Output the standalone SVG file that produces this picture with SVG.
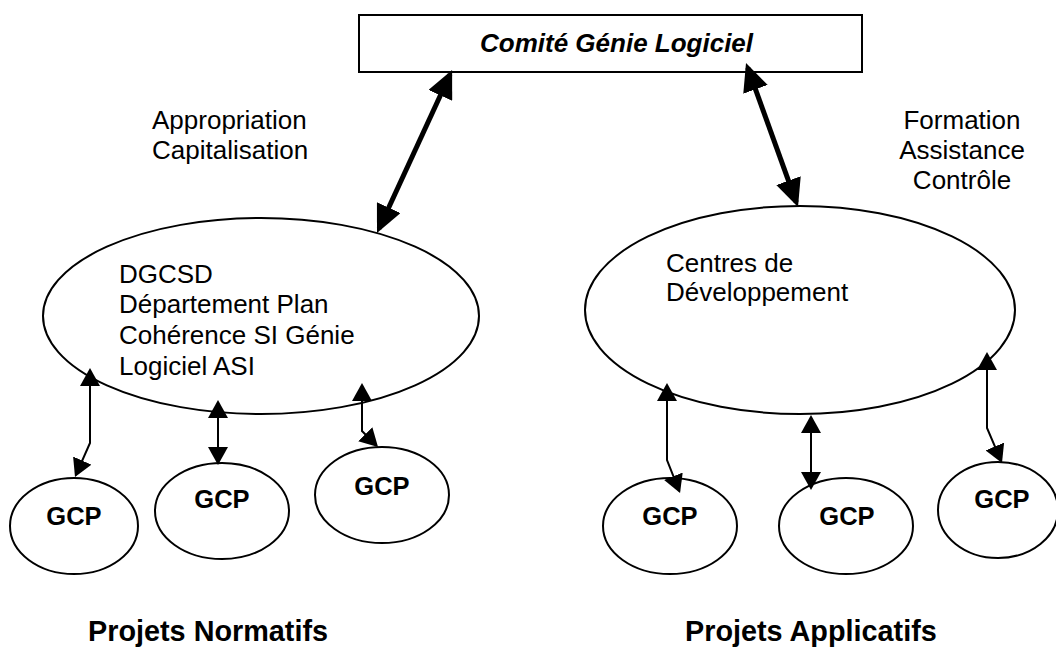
<svg xmlns="http://www.w3.org/2000/svg" width="1056" height="648" viewBox="0 0 1056 648">
<style>
text{font-family:"Liberation Sans",Arial,sans-serif;font-size:26px;fill:#000}
.b{font-weight:bold}
.big{font-weight:bold;font-size:28.8px}
.t{font-weight:bold;font-style:italic}
.shape{fill:#fff;stroke:#000;stroke-width:2}
.thick{fill:none;stroke:#000;stroke-width:5}
.thin{fill:none;stroke:#000;stroke-width:2}
.gcp{text-anchor:middle;font-size:25.5px}
</style>
<defs>
<marker id="bigA" markerUnits="userSpaceOnUse" markerWidth="28" markerHeight="26" refX="23" refY="13" orient="auto-start-reverse" viewBox="0 0 28 26">
<path d="M0,0 L28,13 L0,26 z" fill="#000"/>
</marker>
<marker id="smA" markerUnits="userSpaceOnUse" markerWidth="18" markerHeight="20" refX="16" refY="10" orient="auto-start-reverse" viewBox="0 0 18 20">
<path d="M0,0 L18,10 L0,20 z" fill="#000"/>
</marker>
</defs>
<rect width="1056" height="648" fill="#fff"/>
<g id="comite">
<rect class="shape" x="359" y="15" width="503" height="57"/>
<text class="t" x="480" y="52">Comité Génie Logiciel</text>
</g>
<g id="dgcsd">
<ellipse class="shape" cx="261" cy="316" rx="218" ry="98"/>
<text x="119" y="283">DGCSD</text>
<text x="119" y="313">Département Plan</text>
<text x="119" y="344">Cohérence SI Génie</text>
<text x="119" y="375">Logiciel ASI</text>
</g>
<g id="centres">
<ellipse class="shape" cx="800" cy="310" rx="215" ry="104"/>
<text x="666" y="272">Centres de</text>
<text x="666" y="301">Développement</text>
</g>
<g id="gcp1"><ellipse class="shape" cx="74" cy="526" rx="64" ry="48"/><text class="b gcp" x="74" y="525">GCP</text></g>
<g id="gcp2"><ellipse class="shape" cx="222" cy="511" rx="67" ry="48"/><text class="b gcp" x="222" y="508">GCP</text></g>
<g id="gcp3"><ellipse class="shape" cx="382" cy="495" rx="67" ry="48"/><text class="b gcp" x="382" y="495">GCP</text></g>
<g id="gcp4"><ellipse class="shape" cx="670" cy="526" rx="67" ry="48"/><text class="b gcp" x="670" y="525">GCP</text></g>
<g id="gcp5"><ellipse class="shape" cx="846" cy="526" rx="67" ry="48"/><text class="b gcp" x="847" y="525">GCP</text></g>
<g id="gcp6"><ellipse class="shape" cx="998" cy="510" rx="60" ry="48"/><text class="b gcp" x="1002" y="508">GCP</text></g>
<g id="labels">
<text x="152" y="129">Appropriation</text>
<text x="152" y="159">Capitalisation</text>
<text x="962" y="129" text-anchor="middle">Formation</text>
<text x="962" y="159" text-anchor="middle">Assistance</text>
<text x="962" y="189" text-anchor="middle">Contrôle</text>
<text class="big" x="88" y="641">Projets Normatifs</text>
<text class="big" x="685" y="641">Projets Applicatifs</text>
</g>
<g id="connectors">
<path class="thick" d="M450,74.5 L379.1,228.5" marker-start="url(#bigA)" marker-end="url(#bigA)"/>
<path class="thick" d="M747.7,67.7 L796.3,202.3" marker-start="url(#bigA)" marker-end="url(#bigA)"/>
<path class="thin" d="M90,370 L90,443 L75.8,475.2" marker-start="url(#smA)" marker-end="url(#smA)"/>
<path class="thin" d="M218,402 L218,463" marker-start="url(#smA)" marker-end="url(#smA)"/>
<path class="thin" d="M362,385 L362,431 L376.6,445.6" marker-start="url(#smA)" marker-end="url(#smA)"/>
<path class="thin" d="M667,385 L667,460 L679.3,491.1" marker-start="url(#smA)" marker-end="url(#smA)"/>
<path class="thin" d="M811,417 L811,488" marker-start="url(#smA)" marker-end="url(#smA)"/>
<path class="thin" d="M987,354 L987,428 L1001.2,461.2" marker-start="url(#smA)" marker-end="url(#smA)"/>
</g>
</svg>
